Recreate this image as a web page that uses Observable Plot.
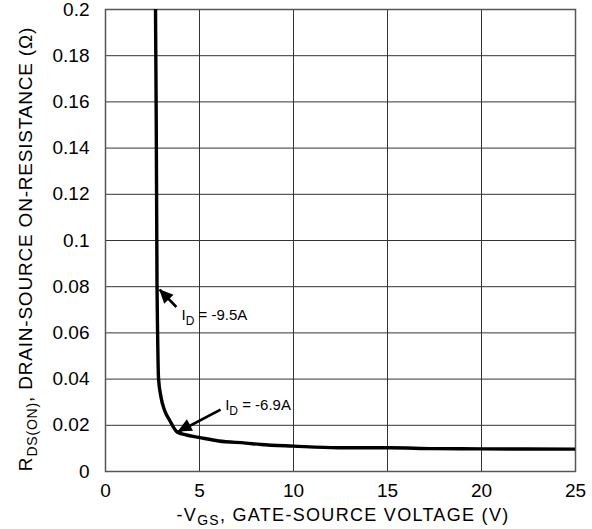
<!DOCTYPE html>
<html>
<head>
<meta charset="utf-8">
<script src="https://cdn.jsdelivr.net/npm/d3@7"></script>
<script src="https://cdn.jsdelivr.net/npm/@observablehq/plot@0.6"></script>
<style>
  html, body { margin: 0; padding: 0; background: #fff; }
  svg text { font-family: "Liberation Sans", Arial, Helvetica, sans-serif; }
</style>
</head>
<body>
<div id="chart"></div>
<script>
// -VGS (V)
const vgs = [2.66, 2.70, 2.74, 2.77, 2.82, 2.95, 3.14, 3.41, 3.81, 4.3, 4.95, 6.02, 7.46, 8.26, 10.0, 12.36, 15.1, 17.5, 20, 25];
// RDS(ON) (ohm)
const rds = [0.2, 0.15, 0.0809, 0.0606, 0.0403, 0.0323, 0.0265, 0.0222, 0.0171, 0.0158, 0.0148, 0.0132, 0.0123, 0.0117, 0.0110, 0.0103, 0.0103, 0.0099, 0.0098, 0.0097];

const xTicks = [0, 5, 10, 15, 20, 25];
const yTicks = [0, 0.02, 0.04, 0.06, 0.08, 0.1, 0.12, 0.14, 0.16, 0.18, 0.2];

// annotations
const annCurrent = ["-9.5A", "-6.9A"];
const annLabelX = [4.07, 6.39];
const annLabelY = [0.0653, 0.0265];
const arrowTailX = [3.77, 6.12];
const arrowTailY = [0.0712, 0.0268];
const arrowTipX = [2.88, 3.86];
const arrowTipY = [0.0787, 0.0171];

const curve = vgs.map((v, i) => ({v, r: rds[i]}));
const arrows = arrowTailX.map((x, i) => ({x1: x, y1: arrowTailY[i], x2: arrowTipX[i], y2: arrowTipY[i]}));

const plot = Plot.plot({
  width: 592,
  height: 529,
  marginLeft: 105,
  marginRight: 17,
  marginTop: 9,
  marginBottom: 58,
  style: {fontSize: "19px", fontFamily: "Liberation Sans, Arial, sans-serif", color: "#000", background: "#fff"},
  x: {domain: [0, 25], ticks: xTicks, tickSize: 0, tickPadding: 12, label: null},
  y: {domain: [0, 0.2], ticks: yTicks, tickSize: 0, tickPadding: 16, label: null, tickFormat: d3.format("~g")},
  marks: [
    Plot.gridX(xTicks, {stroke: "#333", strokeOpacity: 1, strokeWidth: 1}),
    Plot.gridY(yTicks, {stroke: "#333", strokeOpacity: 1, strokeWidth: 1}),
    Plot.frame({stroke: "#555", strokeWidth: 1.5}),
    Plot.line(curve, {x: "v", y: "r", stroke: "#000", strokeWidth: 3.4, curve: "monotone-x", clip: true}),
    Plot.link(arrows, {x1: "x1", y1: "y1", x2: "x2", y2: "y2", stroke: "#000", strokeWidth: 2.6})
  ]
});

document.getElementById("chart").appendChild(plot);

const sx = plot.scale("x"), sy = plot.scale("y");
const svg = d3.select(plot);

// arrowheads (filled triangles)
arrows.forEach(a => {
  const tx = sx.apply(a.x2), ty = sy.apply(a.y2);
  const fx = sx.apply(a.x1), fy = sy.apply(a.y1);
  const dx = tx - fx, dy = ty - fy, len = Math.hypot(dx, dy);
  const ux = dx / len, uy = dy / len;
  const L = 14, W = 6.5;
  const bx = tx - ux * L, by = ty - uy * L;
  svg.append("polygon")
    .attr("points", [[tx, ty], [bx - uy * W, by + ux * W], [bx + uy * W, by - ux * W]].map(p => p.join(",")).join(" "))
    .attr("fill", "#000");
});

// annotation labels
annCurrent.forEach((c, i) => {
  const t = svg.append("text")
    .attr("x", sx.apply(annLabelX[i]))
    .attr("y", sy.apply(annLabelY[i]))
    .attr("text-anchor", "start")
    .attr("font-size", 15)
    .attr("fill", "#000");
  t.append("tspan").text("I");
  t.append("tspan").attr("font-size", 12).attr("dy", 5).text("D");
  t.append("tspan").attr("dy", -5).text(" = " + c);
});

// x axis title
{
  const t = svg.append("text")
    .attr("x", 343).attr("y", 521)
    .attr("text-anchor", "middle")
    .attr("font-size", 18)
    .attr("letter-spacing", 1.3)
    .attr("fill", "#000");
  t.append("tspan").text("-V");
  t.append("tspan").attr("font-size", 14).attr("dy", 4).text("GS");
  t.append("tspan").attr("dy", -4).text(", GATE-SOURCE VOLTAGE (V)");
}

// y axis title
{
  const t = svg.append("text")
    .attr("transform", "translate(32,249) rotate(-90)")
    .attr("text-anchor", "middle")
    .attr("font-size", 19)
    .attr("letter-spacing", 0.8)
    .attr("fill", "#000");
  t.append("tspan").text("R");
  t.append("tspan").attr("font-size", 14).attr("dy", 5).text("DS(ON)");
  t.append("tspan").attr("dy", -5).text(", DRAIN-SOURCE ON-RESISTANCE (Ω)");
}
</script>
</body>
</html>
